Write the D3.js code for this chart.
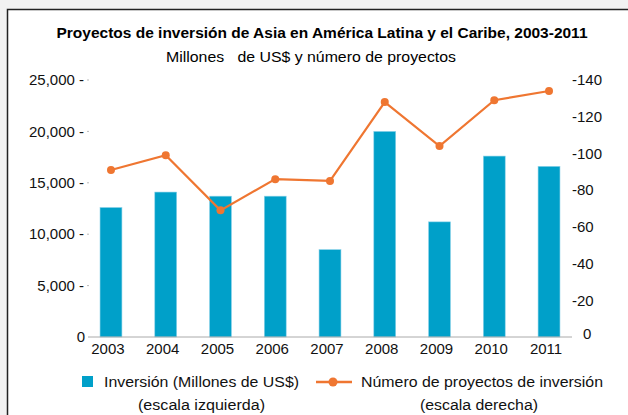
<!DOCTYPE html>
<html>
<head>
<meta charset="utf-8">
<script src="https://cdn.jsdelivr.net/npm/d3@7"></script>
<style>
  body { margin: 0; background: #f2f2f2; }
  svg { display: block; font-family: "Liberation Sans", Arial, sans-serif; }
</style>
</head>
<body>
<div id="chart"></div>
<script>
const years = ['2003', '2004', '2005', '2006', '2007', '2008', '2009', '2010', '2011'];
const inversion = [12600, 14100, 13700, 13700, 8500, 20000, 11200, 17600, 16600];
const proyectos = [91, 99, 69, 86, 85, 128, 104, 129, 134];
const leftTicks = [0, 5000, 10000, 15000, 20000, 25000];
const rightTicks = [0, 20, 40, 60, 80, 100, 120, 140];

const W = 628;
const H = 415;
const barColor = '#00a0c9';
const lineColor = '#ef7631';

const svg = d3.select('#chart').append('svg').attr('width', W).attr('height', H);

// white frame with dark border (runs off the right/bottom edge)
svg.append('rect')
  .attr('x', 7.5).attr('y', 9.5)
  .attr('width', W).attr('height', H)
  .attr('fill', '#fff')
  .attr('stroke', '#222')
  .attr('stroke-width', 1.5);

const x = d3.scaleBand().domain(years).range([83.6, 576.4])
  .paddingInner(0.6).paddingOuter(0.3);
const yL = d3.scaleLinear().domain([0, 25000]).range([337, 80]);
const yR = d3.scaleLinear().domain([0, 140]).range([337, 80]);

// titles
svg.append('text')
  .attr('x', 322).attr('y', 38)
  .attr('text-anchor', 'middle')
  .attr('font-size', 14.2).attr('font-weight', 'bold')
  .attr('textLength', 531).attr('lengthAdjust', 'spacingAndGlyphs')
  .text('Proyectos de inversión de Asia en América Latina y el Caribe, 2003-2011');
svg.append('text')
  .attr('x', 311).attr('y', 62)
  .attr('text-anchor', 'middle')
  .attr('font-size', 15)
  .attr('textLength', 290).attr('lengthAdjust', 'spacingAndGlyphs')
  .style('white-space', 'pre')
  .text('Millones   de US$ y número de proyectos');

// left axis labels
const fmt = d3.format(',');
svg.append('g').selectAll('text')
  .data(leftTicks)
  .join('text')
  .attr('x', (d) => (d === 0 ? 85 : 84))
  .attr('y', (d) => yL(d))
  .attr('dy', '0.35em')
  .attr('text-anchor', 'end')
  .attr('font-size', 15)
  .attr('fill', '#111')
  .text((d) => (d === 0 ? '0' : `${fmt(d)} -`));
svg.append('g').selectAll('line')
  .data(leftTicks.filter((d) => d > 0))
  .join('line')
  .attr('x1', 87).attr('x2', 89)
  .attr('y1', (d) => yL(d)).attr('y2', (d) => yL(d))
  .attr('stroke', '#bbb');

// right axis labels
svg.append('g').selectAll('text')
  .data(rightTicks)
  .join('text')
  .attr('x', (d) => (d === 0 ? 583 : 572))
  .attr('y', (d) => yR(d) - (d === 0 ? 3 : 0))
  .attr('dy', '0.35em')
  .attr('font-size', 15)
  .attr('fill', '#111')
  .text((d) => (d === 0 ? '0' : `-${d}`));

// bars
svg.append('g').selectAll('rect')
  .data(inversion)
  .join('rect')
  .attr('x', (d, i) => x(years[i]))
  .attr('y', (d) => yL(d))
  .attr('width', x.bandwidth())
  .attr('height', (d) => yL(0) - yL(d))
  .attr('fill', barColor)
  .attr('stroke', '#8fd3ea')
  .attr('stroke-width', 0.6);

// baseline
svg.append('line')
  .attr('x1', 88).attr('x2', 572)
  .attr('y1', yL(0)).attr('y2', yL(0))
  .attr('stroke', '#aaa');

// x labels
svg.append('g').selectAll('text')
  .data(years)
  .join('text')
  .attr('x', (d) => x(d) + x.bandwidth() / 2 - 3)
  .attr('y', 354)
  .attr('text-anchor', 'middle')
  .attr('font-size', 15)
  .attr('fill', '#111')
  .text((d) => d);

// line series
const line = d3.line()
  .x((d, i) => x(years[i]) + x.bandwidth() / 2)
  .y((d) => yR(d));
svg.append('path')
  .datum(proyectos)
  .attr('d', line)
  .attr('fill', 'none')
  .attr('stroke', lineColor)
  .attr('stroke-width', 2.2);
svg.append('g').selectAll('circle')
  .data(proyectos)
  .join('circle')
  .attr('cx', (d, i) => x(years[i]) + x.bandwidth() / 2)
  .attr('cy', (d) => yR(d))
  .attr('r', 4)
  .attr('fill', lineColor);

// legend
const leg = svg.append('g').attr('font-size', 15.5).attr('fill', '#111');
leg.append('rect')
  .attr('x', 82).attr('y', 376)
  .attr('width', 11).attr('height', 11)
  .attr('fill', barColor);
leg.append('text')
  .attr('x', 104).attr('y', 387)
  .attr('textLength', 195).attr('lengthAdjust', 'spacingAndGlyphs')
  .text('Inversión (Millones de US$)');
leg.append('text')
  .attr('x', 138).attr('y', 410)
  .attr('textLength', 127).attr('lengthAdjust', 'spacingAndGlyphs')
  .text('(escala izquierda)');
leg.append('line')
  .attr('x1', 316).attr('x2', 352)
  .attr('y1', 382).attr('y2', 382)
  .attr('stroke', lineColor)
  .attr('stroke-width', 2.5);
leg.append('circle')
  .attr('cx', 333).attr('cy', 382).attr('r', 4.5)
  .attr('fill', lineColor);
leg.append('text')
  .attr('x', 361).attr('y', 387)
  .attr('textLength', 242).attr('lengthAdjust', 'spacingAndGlyphs')
  .text('Número de proyectos de inversión');
leg.append('text')
  .attr('x', 420).attr('y', 410)
  .attr('textLength', 118).attr('lengthAdjust', 'spacingAndGlyphs')
  .text('(escala derecha)');
</script>
</body>
</html>
